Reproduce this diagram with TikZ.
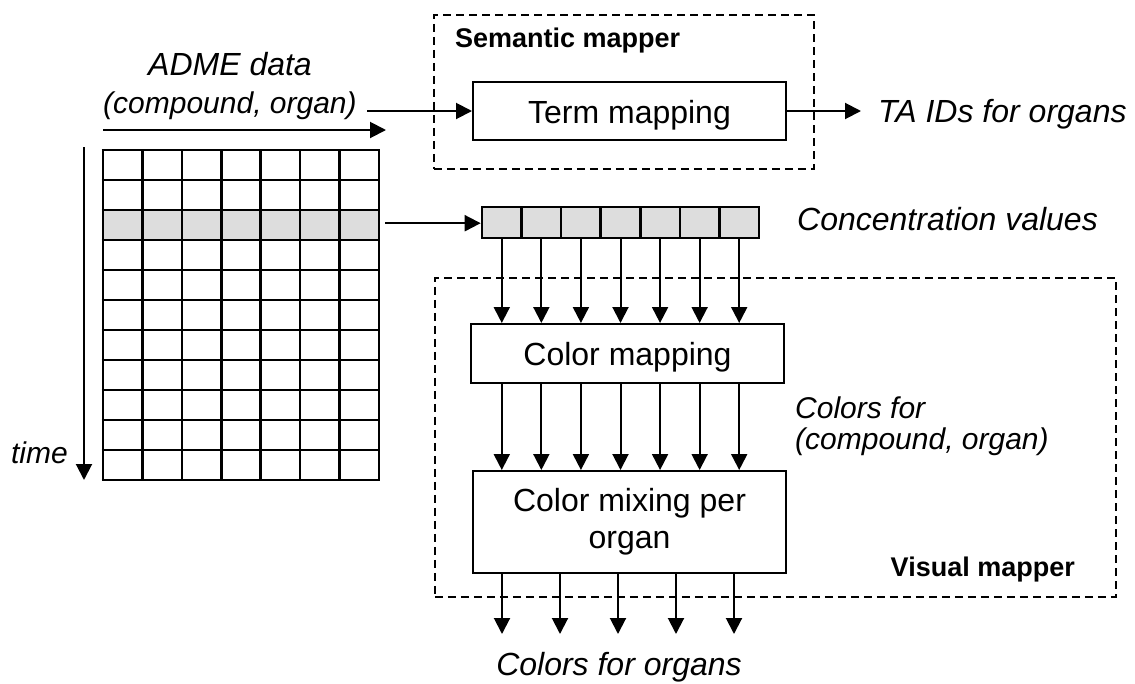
\documentclass[tikz,border=0pt]{standalone}
\usepackage{fontspec}
\setmainfont{Liberation Sans}
\usetikzlibrary{arrows.meta}
\definecolor{cellgray}{RGB}{221,221,221}
\begin{document}
\begin{tikzpicture}[x=1pt,y=-1pt,
  arr/.style={line width=2pt,-{Triangle[length=16pt,width=16pt]}},
  gridline/.style={line width=2.6pt},
  dashbox/.style={draw,line width=1.8pt,dash pattern=on 8pt off 5pt,inner sep=0pt},
  procbox/.style={draw,line width=2pt,inner sep=0pt,font=\fontsize{32}{37}\selectfont,align=center},
  oneline/.style={text height=24pt,text depth=0pt},
  bigit/.style={inner sep=0pt,font=\fontsize{32}{37}\selectfont\itshape},
  midit/.style={inner sep=0pt,font=\fontsize{30}{34}\selectfont\itshape},
  boldlab/.style={inner sep=0pt,font=\fontsize{27}{32}\selectfont\bfseries},
  cell/.style={draw,line width=2.6pt,fill=cellgray,minimum width=39.57pt,minimum height=31pt,inner sep=0pt}
]
\useasboundingbox (0,0) rectangle (1135,683);

% dashed containers
\node[dashbox,anchor=north west,minimum width=380pt,minimum height=154pt] (sem) at (433,14) {};
\node[dashbox,anchor=north west,minimum width=681pt,minimum height=319pt] (vis) at (434,277) {};
\node[boldlab,anchor=base west] (semlab) at (455,47) {Semantic mapper};
\node[boldlab,anchor=base east] (vislab) at (1075,576) {Visual mapper};

% data grid
\node[fill=cellgray,anchor=north west,minimum width=276pt,minimum height=30pt,inner sep=0pt] (row) at (103,210) {};
\node[anchor=north west,minimum width=276pt,minimum height=330pt,inner sep=0pt] (grid) at (103,150) {};
\foreach \i in {0,...,7} \draw[gridline] (103+\i*39.43,150) -- (103+\i*39.43,480);
\foreach \j in {0,...,11} \draw[gridline] (103-1.3,150+\j*30) -- (379+1.3,150+\j*30);

% labels of the data
\node[bigit,anchor=base] (adme) at (230,75) {ADME data};
\node[midit,anchor=base west] (cmpd) at (103,113) {(compound, organ)};
\node[midit,anchor=base east] (time) at (68,463) {time};
\coordinate (hs) at (103,130);
\coordinate (he) at (386,130);
\draw[arr] (hs) -- (he);
\coordinate (ts) at (84,147);
\coordinate (te) at (84,480);
\draw[arr] (ts) -- (te);

% semantic mapper
\node[procbox,oneline,minimum width=313pt,minimum height=58pt] (term) at (629.5,111) {Term mapping};
\coordinate (tin) at (367,111);
\draw[arr] (tin) -- (term.west);
\coordinate (tout) at (861,111);
\draw[arr] (term.east) -- (tout);
\node[bigit,anchor=base west] (taids) at (878,122) {TA IDs for organs};

% concentration values
\foreach \i in {1,...,7}
  \node[cell] (c\i) at (482+19.785+39.57*\i-39.57,222.5) {};
\coordinate (rs) at ([xshift=6pt,yshift=2pt]row.east);
\draw[arr] (rs) -- (rs -| c1.west);
\node[bigit,anchor=base west] (concl) at (797,230) {Concentration values};

% visual mapper
\node[procbox,oneline,minimum width=313pt,minimum height=59pt] (cmap) at (627.5,353.5) {Color mapping};
\node[procbox,minimum width=313pt,minimum height=102pt] (mix) at (629.5,522) {Color mixing per\\organ};
\foreach \i in {1,...,7} {
  \draw[arr] (c\i.south) -- (c\i.south |- cmap.north);
  \draw[arr] (c\i.south |- cmap.south) -- (c\i.south |- mix.north);
}
\node[midit,anchor=base west] (colA) at (795,418) {Colors for};
\node[midit,anchor=base west] (colB) at (795,449) {(compound, organ)};

% outputs
\foreach \i in {1,...,5} {
  \coordinate (o\i) at (502+58*\i-58,634);
  \draw[arr] (o\i |- mix.south) -- (o\i);
}
\node[bigit,anchor=base] (outl) at (619,675) {Colors for organs};
\end{tikzpicture}
\end{document}
